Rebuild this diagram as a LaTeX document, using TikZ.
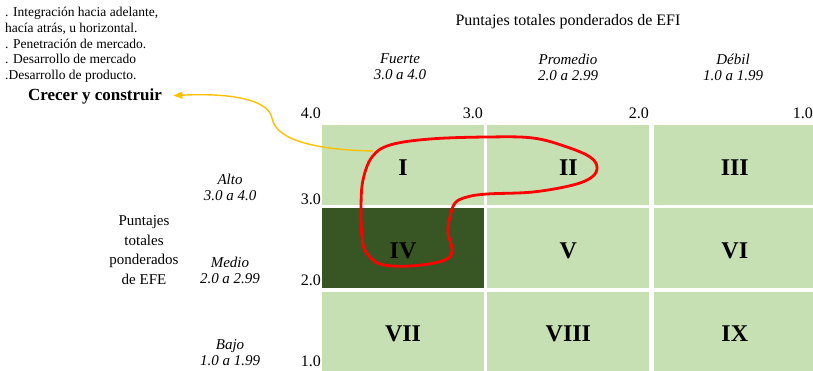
\documentclass[tikz,border=0pt]{standalone}
\usepackage{fontspec}
\setmainfont{Liberation Serif}
\usepackage{tikz}
\usetikzlibrary{arrows.meta, positioning}
\definecolor{cellLight}{HTML}{C6E0B4}
\definecolor{cellDark}{HTML}{375623}
\definecolor{zoneRed}{HTML}{FF0000}
\definecolor{linkGold}{HTML}{FFC000}

\begin{document}
\begin{tikzpicture}[
    x=1pt, y=-1pt,
    cell/.style={
      rectangle, fill=cellLight, inner sep=0pt,
      minimum width=162pt, minimum height=80pt,
      text height=20pt, text depth=0pt,
      font=\fontsize{24}{24}\selectfont\bfseries
    },
    tick/.style={inner sep=0pt, anchor=east, font=\fontsize{16}{16}\selectfont},
    band/.style={align=center, inner sep=0pt, font=\fontsize{15}{16}\selectfont\itshape},
    link/.style={-{Triangle[length=9pt, width=7pt]}, line width=1.4pt, linkGold},
    zone/.style={line width=2.8pt, zoneRed},
  ]

  \useasboundingbox (0,0) rectangle (813,370);

  %% ── Matrix cells ──
  \node[cell]                                 (c1) at (403,165) {I};
  \node[cell, right=3pt of c1]                (c2) {II};
  \node[cell, right=4pt of c2]                (c3) {III};
  \node[cell, fill=cellDark, below=3pt of c1] (c4) {IV};
  \node[cell, below=3pt of c2]                (c5) {V};
  \node[cell, below=3pt of c3]                (c6) {VI};
  \node[cell, below=3pt of c4]                (c7) {VII};
  \node[cell, below=3pt of c5]                (c8) {VIII};
  \node[cell, below=3pt of c6]                (c9) {IX};

  %% ── Axis values ──
  \node[tick] (x4) at (321,113) {4.0};
  \node[tick] (x3) at (483,113) {3.0};
  \node[tick] (x2) at (649,113) {2.0};
  \node[tick] (x1) at (813,113) {1.0};
  \node[tick] (y3) at (321,199) {3.0};
  \node[tick] (y2) at (321,280) {2.0};
  \node[tick] (y1) at (321,361) {1.0};

  %% ── EFI heading (columns) ──
  \node[font=\fontsize{16}{16}\selectfont] (efi) at (568,22) {Puntajes totales ponderados de EFI};
  \node[band] (fuerte)   at (400,67) {Fuerte\\3.0 a 4.0};
  \node[band] (promedio) at (568,67) {Promedio\\2.0 a 2.99};
  \node[band] (debil)    at (733,67) {Débil\\1.0 a 1.99};

  %% ── EFE heading (rows) ──
  \node[align=center, font=\fontsize{15}{19.5}\selectfont] (efe) at (144,250)
    {Puntajes\\totales\\ponderados\\de EFE};
  \node[band] (alto)  at (230,187) {Alto\\3.0 a 4.0};
  \node[band] (medio) at (230,270) {Medio\\2.0 a 2.99};
  \node[band] (bajo)  at (230,353) {Bajo\\1.0 a 1.99};

  %% ── Strategy note ──
  \node[anchor=north west, align=left, inner sep=0pt,
        font=\fontsize{13.5}{15.75}\selectfont] (lista) at (5,7)
    {. Integración hacia adelante,\\hacía atrás, u horizontal.\\. Penetración de mercado.\\. Desarrollo de mercado\\.Desarrollo de producto.};
  \node[font=\fontsize{17}{17}\selectfont\bfseries] (crecer) at (95,96) {Crecer y construir};

  %% ── Grow zone and link ──
  \draw[zone] plot[smooth cycle, tension=0.6] coordinates {
    (372,157) (390,145) (430,139) (487,137) (533,138) (567,147) (590,157)
    (597,167) (592,177) (573,185) (533,192) (487,194) (467,197) (455,203)
    (450,217) (448,232) (452,252) (442,261) (410,266) (380,264) (366,252)
    (362,237) (361,207) (363,180)};

  \coordinate (start) at (373,151);
  \coordinate (bend)  at (272,118);
  \draw[link, shorten >=8pt] (start) .. controls (322,150) and (276,142) .. (bend)
    .. controls (268,98) and (225,93) .. (crecer.east);

\end{tikzpicture}
\end{document}
